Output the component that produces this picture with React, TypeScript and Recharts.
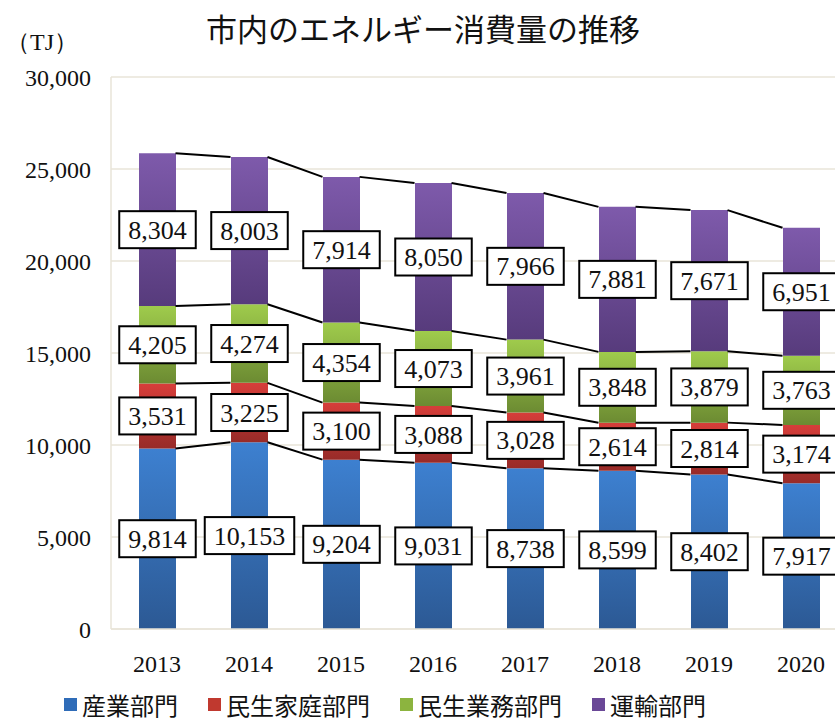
import { BarChart, Bar, XAxis, YAxis, CartesianGrid, LabelList, ReferenceLine } from "recharts";

const years = ["2013", "2014", "2015", "2016", "2017", "2018", "2019", "2020"];
const industry = [9814, 10153, 9204, 9031, 8738, 8599, 8402, 7917];
const household = [3531, 3225, 3100, 3088, 3028, 2614, 2814, 3174];
const business = [4205, 4274, 4354, 4073, 3961, 3848, 3879, 3763];
const transport = [8304, 8003, 7914, 8050, 7966, 7881, 7671, 6951];
const yTicks = [0, 5000, 10000, 15000, 20000, 25000, 30000];

const series = [
  { key: "industry", name: "産業部門", values: industry, top: "#3d80d0", bottom: "#2c5994", swatch: "#2f6cb8" },
  { key: "household", name: "民生家庭部門", values: household, top: "#d63e3a", bottom: "#982b28", swatch: "#c0392f" },
  { key: "business", name: "民生業務部門", values: business, top: "#9fcb4c", bottom: "#6c8b32", swatch: "#8cb43f" },
  { key: "transport", name: "運輸部門", values: transport, top: "#7e5aab", bottom: "#573b7c", swatch: "#6a4897" },
];

const data = years.map((year, i) => ({
  year,
  industry: industry[i],
  household: household[i],
  business: business[i],
  transport: transport[i],
}));

// cumulative tops per series, for the connector lines
const cumulative = series.map((_, s) =>
  years.map((_, i) => series.slice(0, s + 1).reduce((sum, ser) => sum + ser.values[i], 0))
);

const SERIF = "'Liberation Serif', 'DejaVu Serif', serif";
const CJK = "'Noto Sans CJK JP', 'Noto Sans', sans-serif";
const BAR = 37;
const GRID = "#e8e5d8";

const fmt = (v: number) => v.toLocaleString("en-US");

const ValueBox = (props: any) => {
  const { x, y, width, height, value } = props;
  const text = fmt(value);
  const fs = 26;
  const tw = text.split("").reduce((w: number, c: string) => w + (c === "," ? fs * 0.25 : fs * 0.5), 0);
  const bw = tw + 18;
  const bh = 37;
  const cx = x + width / 2;
  const cy = y + height / 2;
  return (
    <g>
      <rect x={cx - bw / 2} y={cy - bh / 2} width={bw} height={bh} fill="#fff" stroke="#000" strokeWidth={2} />
      <text x={cx} y={cy} dy="0.35em" textAnchor="middle" fontSize={fs} fontFamily={SERIF} fill="#111">
        {text}
      </text>
    </g>
  );
};

const Connector = (props: any) => {
  const { x1, y1, x2, y2 } = props;
  return <line x1={x1 + BAR / 2} y1={y1} x2={x2 - BAR / 2} y2={y2} stroke="#000" strokeWidth={2} />;
};

export default function App() {
  return (
    <div style={{ position: "fixed", left: 0, top: 0, width: 835, height: 722, overflow: "hidden", background: "#fff" }}>
      <div style={{ position: "absolute", left: 0, width: 846, top: 5, textAlign: "center", fontFamily: CJK, fontSize: 31, color: "#111" }}>
        市内のエネルギー消費量の推移
      </div>
      <div style={{ position: "absolute", left: 6, top: 26, fontFamily: SERIF, fontSize: 24, color: "#111" }}>（TJ）</div>
      <BarChart width={860} height={722} data={data} margin={{ top: 77, right: 13, bottom: 53, left: 0 }}>
        <defs>
          {series.map((s) => (
            <linearGradient key={s.key} id={`g-${s.key}`} x1="0" y1="0" x2="0" y2="1">
              <stop offset="0%" stopColor={s.top} />
              <stop offset="100%" stopColor={s.bottom} />
            </linearGradient>
          ))}
        </defs>
        <CartesianGrid vertical={false} stroke={GRID} strokeWidth={1.5} />
        <XAxis
          dataKey="year"
          height={40}
          axisLine={{ stroke: GRID, strokeWidth: 1.5 }}
          tickLine={false}
          tickMargin={20}
          tick={{ fontSize: 24, fill: "#111", fontFamily: SERIF }}
        />
        <XAxis xAxisId="labels" dataKey="year" hide />
        <YAxis
          width={111}
          domain={[0, 30000]}
          ticks={yTicks}
          tickFormatter={fmt}
          axisLine={{ stroke: GRID, strokeWidth: 1.5 }}
          tickLine={false}
          tickMargin={14}
          tick={{ fontSize: 24, fill: "#111", fontFamily: SERIF }}
        />
        {series.map((s) => (
          <Bar key={s.key} dataKey={s.key} name={s.name} stackId="a" barSize={BAR} fill={`url(#g-${s.key})`} isAnimationActive={false} />
        ))}
        {cumulative.map((tops, s) =>
          tops.slice(0, -1).map((v, i) => (
            <ReferenceLine
              key={`c-${s}-${i}`}
              segment={[
                { x: years[i], y: v },
                { x: years[i + 1], y: tops[i + 1] },
              ]}
              shape={Connector}
            />
          ))
        )}
        {series.map((s) => (
          <Bar key={`lbl-${s.key}`} xAxisId="labels" dataKey={s.key} stackId="b" barSize={BAR} fill="none" isAnimationActive={false}>
            <LabelList dataKey={s.key} content={ValueBox} />
          </Bar>
        ))}
      </BarChart>
      <div style={{ position: "absolute", left: 64, top: 689, display: "flex", alignItems: "center", gap: 30, fontFamily: CJK, fontSize: 24, lineHeight: "31px", color: "#111" }}>
        {series.map((s) => (
          <div key={s.key} style={{ display: "flex", alignItems: "center", gap: 5 }}>
            <span style={{ display: "inline-block", width: 13, height: 13, background: s.swatch }} />
            <span>{s.name}</span>
          </div>
        ))}
      </div>
    </div>
  );
}
